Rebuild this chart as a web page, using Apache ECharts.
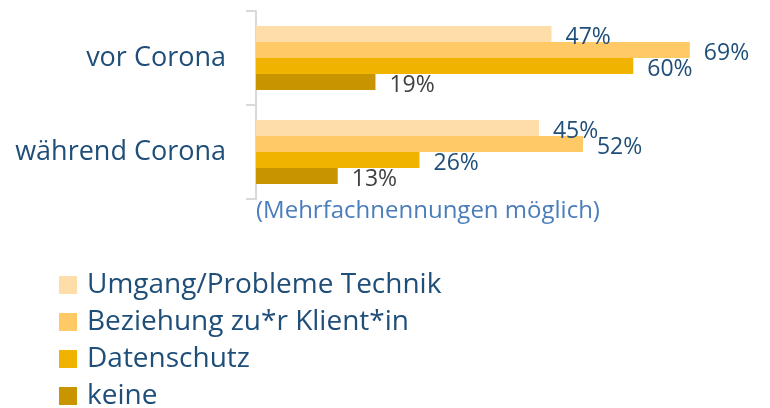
<!DOCTYPE html>
<html>
<head>
<meta charset="utf-8">
<script src="https://cdn.jsdelivr.net/npm/echarts@6/dist/echarts.min.js"></script>
<style>
	html, body { margin: 0; padding: 0; background: #ffffff; }
	#chart { width: 770px; height: 408px; }
</style>
</head>
<body>
<div id="chart"></div>
<script>
/* Kategorien (oben -> unten) */
var categories = ['vor Corona', 'während Corona'];
/* Serien */
var seriesNames = ['Umgang/Probleme Technik', 'Beziehung zu*r Klient*in', 'Datenschutz', 'keine'];
var technikData = [47, 45];
var beziehungData = [69, 52];
var datenschutzData = [60, 26];
var keineData = [19, 13];
var subtitleText = '(Mehrfachnennungen möglich)';

var fontName = '"Open Sans", sans-serif';
var blue = '#1F4E79';

window.onload = function() {
	var chart = echarts.init(document.getElementById('chart'));

	function makeSeries(name, data, color, labelColor) {
		return {
			name: name,
			type: 'bar',
			data: data,
			barWidth: 16,
			barGap: '0%',
			itemStyle: { color: color },
			label: {
				show: true,
				position: 'right',
				distance: 14,
				offset: [0, 3],
				formatter: '{c}%',
				color: labelColor,
				fontFamily: fontName,
				fontSize: 23
			}
		};
	}

	var option = {
		animation: false,
		title: {
			text: subtitleText,
			left: 251,
			top: 194,
			textStyle: {
				color: '#4A7EBB',
				fontFamily: fontName,
				fontSize: 24,
				fontWeight: 'normal'
			}
		},
		legend: {
			orient: 'vertical',
			left: 54,
			top: 265,
			height: 160,
			icon: 'rect',
			itemWidth: 18,
			itemHeight: 18,
			itemGap: 7,
			data: seriesNames,
			textStyle: {
				color: blue,
				fontFamily: fontName,
				fontSize: 28,
				lineHeight: 30,
				padding: [0, 0, 0, 5]
			}
		},
		grid: {
			left: 256,
			top: 11,
			width: 503,
			height: 188
		},
		xAxis: {
			type: 'value',
			min: 0,
			max: 80,
			show: false
		},
		yAxis: {
			type: 'category',
			inverse: true,
			data: categories,
			axisLine: { show: true, lineStyle: { color: '#D9D9D9', width: 2 } },
			axisTick: { show: true, length: 10, lineStyle: { color: '#D9D9D9', width: 2 } },
			axisLabel: {
				margin: 30,
				color: blue,
				fontFamily: fontName,
				fontSize: 27
			}
		},
		series: [
			makeSeries(seriesNames[0], technikData, '#FFDDA9', blue),
			makeSeries(seriesNames[1], beziehungData, '#FFC965', blue),
			makeSeries(seriesNames[2], datenschutzData, '#F0B400', blue),
			makeSeries(seriesNames[3], keineData, '#C89500', '#404040')
		]
	};
	chart.setOption(option);
};
</script>
</body>
</html>
